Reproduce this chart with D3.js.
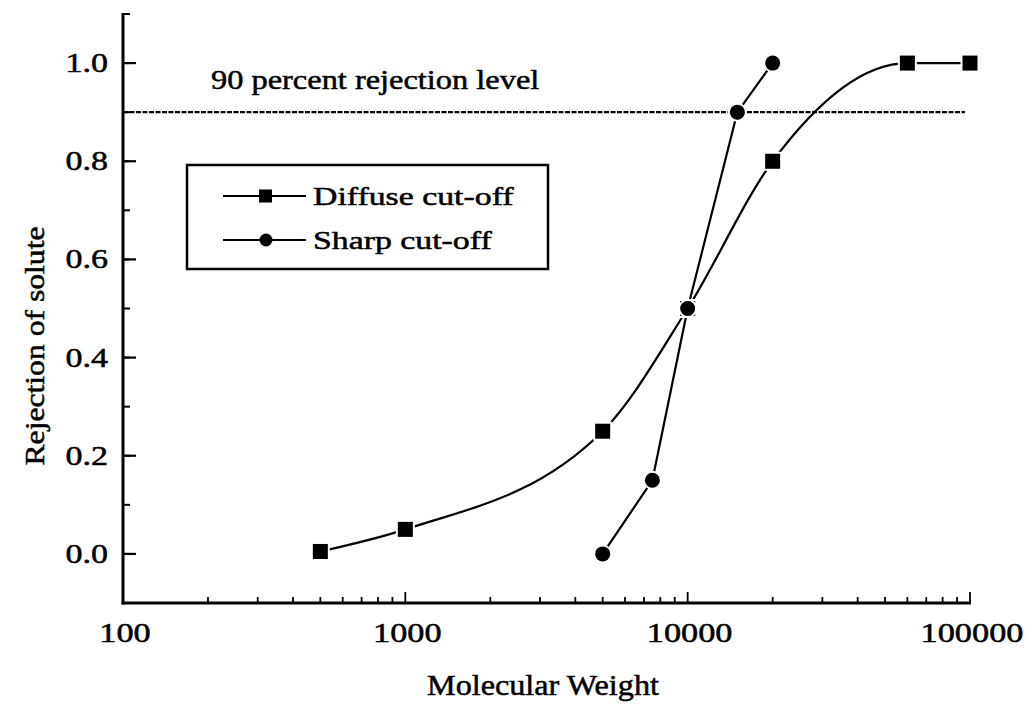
<!DOCTYPE html>
<html>
<head>
<meta charset="utf-8">
<script src="https://cdn.jsdelivr.net/npm/d3@7"></script>
<style>
  html, body { margin: 0; padding: 0; background: #fff; }
  svg { display: block; }
  text { font-family: "Liberation Serif", "Times New Roman", serif; fill: #000; stroke: #000; stroke-width: 0.5; }
</style>
</head>
<body>
<svg id="chart" width="1028" height="707"></svg>
<script>
// Rejection curves for two membrane types vs. solute molecular weight
const diffuseMW = [500, 1000, 5000, 10000, 20000, 60000, 100000];
const diffuseRej = [0.005, 0.05, 0.25, 0.5, 0.8, 1.0, 1.0];
const sharpMW = [5000, 7500, 10000, 15000, 20000];
const sharpRej = [0.0, 0.15, 0.5, 0.9, 1.0];
const rejectionLevel = 0.9;
const xTickValues = [100, 1000, 10000, 100000];
const yTickValues = [0.0, 0.2, 0.4, 0.6, 0.8, 1.0];
const seriesNames = ["Diffuse cut-off", "Sharp cut-off"];

const svg = d3.select("#chart");
svg.append("rect").attr("width", 1028).attr("height", 707).attr("fill", "#fff");

const x = d3.scaleLog().domain([100, 100000]).range([123, 970]);
const y = d3.scaleLinear().domain([-0.1, 1.1]).range([603, 14]);

// widen glyphs a little: the type in this figure is set broad
function widen(sel, k) {
  sel.each(function () {
    const n = this.getComputedTextLength();
    d3.select(this).attr("textLength", n * k).attr("lengthAdjust", "spacingAndGlyphs");
  });
  return sel;
}

// axes
const axisG = svg.append("g");
// minor y ticks (every 0.1)
const yMinor = d3.range(-0.1, 1.11, 0.1).map(v => +v.toFixed(2)).filter(v => v > -0.1);
axisG.selectAll(".ymin").data(yMinor).join("line")
  .attr("x1", x(100)).attr("x2", x(100) + 7)
  .attr("y1", d => y(d)).attr("y2", d => y(d))
  .attr("stroke", "#000").attr("stroke-width", 2);
axisG.selectAll(".ymaj").data(yTickValues).join("line")
  .attr("x1", x(100)).attr("x2", x(100) + 13)
  .attr("y1", d => y(d)).attr("y2", d => y(d))
  .attr("stroke", "#000").attr("stroke-width", 2.2);
widen(axisG.selectAll(".ylab").data(yTickValues).join("text")
  .attr("x", 108).attr("y", d => y(d) + 9)
  .attr("text-anchor", "end").attr("font-size", 27)
  .text(d => d.toFixed(1)), 1.26);

// x ticks: minor 2..9 per decade, major at decades
const xMinor = [];
[100, 1000, 10000].forEach(dec => { for (let k = 2; k <= 9; k++) xMinor.push(dec * k); });
axisG.selectAll(".xmin").data(xMinor).join("line")
  .attr("x1", d => x(d)).attr("x2", d => x(d))
  .attr("y1", 603).attr("y2", 597)
  .attr("stroke", "#000").attr("stroke-width", 1.8);
axisG.selectAll(".xmaj").data(xTickValues.slice(1)).join("line")
  .attr("x1", d => x(d)).attr("x2", d => x(d))
  .attr("y1", 603).attr("y2", 592)
  .attr("stroke", "#000").attr("stroke-width", 1.8);
widen(axisG.selectAll(".xlab").data(xTickValues).join("text")
  .attr("x", d => x(d) + 2).attr("y", 642)
  .attr("text-anchor", "middle").attr("font-size", 27)
  .text(d => String(d)), 1.27);

// axis spines
axisG.append("line").attr("x1", x(100)).attr("x2", x(100))
  .attr("y1", y(1.1) - 1).attr("y2", 604.5)
  .attr("stroke", "#000").attr("stroke-width", 3);
axisG.append("line").attr("x1", x(100) - 1.5).attr("x2", x(100000) + 1)
  .attr("y1", 603).attr("y2", 603)
  .attr("stroke", "#000").attr("stroke-width", 3);

// axis titles
widen(svg.append("text").attr("x", 543).attr("y", 695)
  .attr("text-anchor", "middle").attr("font-size", 29)
  .text("Molecular Weight"), 1.11);
widen(svg.append("text")
  .attr("transform", `translate(44, 346) rotate(-90)`)
  .attr("text-anchor", "middle").attr("font-size", 28)
  .text("Rejection of solute"), 1.13);

// 90 percent rejection reference line
svg.append("line")
  .attr("x1", x(100)).attr("x2", 965)
  .attr("y1", y(rejectionLevel)).attr("y2", y(rejectionLevel))
  .attr("stroke", "#000").attr("stroke-width", 2.4)
  .attr("stroke-dasharray", "5,1.5");
widen(svg.append("text").attr("x", 211).attr("y", 89)
  .attr("font-size", 27)
  .text("90 percent rejection level"), 1.2);

// series
const diffuse = diffuseMW.map((m, i) => [m, diffuseRej[i]]);
const sharp = sharpMW.map((m, i) => [m, sharpRej[i]]);

const smoothLine = d3.line().x(d => x(d[0])).y(d => y(d[1])).curve(d3.curveMonotoneX);
const straightLine = d3.line().x(d => x(d[0])).y(d => y(d[1]));

svg.append("path").attr("d", smoothLine(diffuse))
  .attr("fill", "none").attr("stroke", "#000").attr("stroke-width", 2.2);
svg.append("path").attr("d", straightLine(sharp))
  .attr("fill", "none").attr("stroke", "#000").attr("stroke-width", 2.2);

// markers with a thin white halo so the lines stop just short of them
function squares(g, data, s) {
  g.selectAll(".sq").data(data).join("rect")
    .attr("x", d => x(d[0]) - s / 2).attr("y", d => y(d[1]) - s / 2)
    .attr("width", s).attr("height", s)
    .attr("fill", "#000").attr("stroke", "#fff").attr("stroke-width", 4)
    .attr("paint-order", "stroke");
}
function circles(g, data, r) {
  g.selectAll(".ci").data(data).join("circle")
    .attr("cx", d => x(d[0])).attr("cy", d => y(d[1])).attr("r", r)
    .attr("fill", "#000").attr("stroke", "#fff").attr("stroke-width", 4)
    .attr("paint-order", "stroke");
}
squares(svg.append("g"), diffuse, 15);
circles(svg.append("g"), sharp, 7.5);

// legend
const lg = svg.append("g");
lg.append("rect").attr("x", 187).attr("y", 165).attr("width", 361).attr("height", 104)
  .attr("fill", "#fff").attr("stroke", "#000").attr("stroke-width", 2.5);
const legendRows = [196, 240];
const legendWiden = [1.3, 1.3];
legendRows.forEach((ly, i) => {
  lg.append("line").attr("x1", 223).attr("x2", 306).attr("y1", ly).attr("y2", ly)
    .attr("stroke", "#000").attr("stroke-width", 2);
  if (i === 0) {
    lg.append("rect").attr("x", 259).attr("y", ly - 6.5).attr("width", 13).attr("height", 13).attr("fill", "#000");
  } else {
    lg.append("circle").attr("cx", 266).attr("cy", ly).attr("r", 6.5).attr("fill", "#000");
  }
  widen(lg.append("text").attr("x", 313).attr("y", ly + 9).attr("font-size", 26).text(seriesNames[i]), legendWiden[i]);
});
</script>
</body>
</html>
